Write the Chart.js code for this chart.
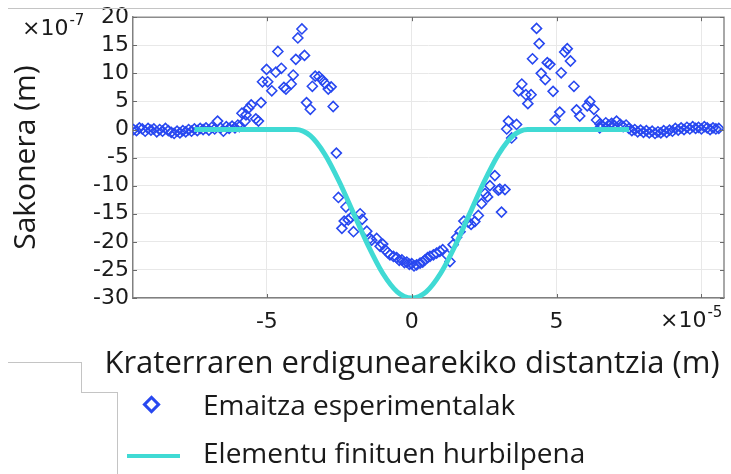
<!DOCTYPE html>
<html>
<head>
<meta charset="utf-8">
<script src="https://cdn.jsdelivr.net/npm/chart.js@4.4.1/dist/chart.umd.min.js"></script>
<style>
  html, body { margin: 0; padding: 0; background: #fff; }
  #wrap { position: relative; width: 731px; height: 474px; overflow: hidden; }
  #chart { position: absolute; left: 0; top: 0; }
  .rule { position: absolute; background: #c4c4c4; }
  .legend-row { position: absolute; left: 0; height: 40px; width: 731px; }
  .legend-text { position: absolute; left: 203px; top: 0; line-height: 40px;
                 font-family: "Open Sans"; font-size: 28px; color: #1a1a1a; white-space: nowrap; }
  .legend-diamond { position: absolute; width: 7px; height: 7px; transform: rotate(45deg); }
  .legend-line { position: absolute; height: 4px; }
</style>
</head>
<body>
<div id="wrap">
  <canvas id="chart" width="731" height="474"></canvas>
  <div class="rule" style="left:8px;top:8px;width:723px;height:1px"></div>
  <div class="rule" style="left:8px;top:362px;width:73px;height:1px"></div>
  <div class="rule" style="left:81px;top:362px;width:1px;height:30px"></div>
  <div class="rule" style="left:81px;top:392px;width:36px;height:1px"></div>
  <div class="rule" style="left:117px;top:392px;width:1px;height:82px"></div>
  <div id="legend"></div>
</div>
<script>
// x in units of 1e-5 m, y in units of 1e-7 m
const expX = [
  -9.6, -9.5, -9.4, -9.3, -9.2, -9.1, -9.0, -8.9, -8.8, -8.7, -8.6, -8.5, -8.4, -8.3, -8.2, -8.1,
  -8.0, -7.9, -7.8, -7.7, -7.6, -7.5, -7.4, -7.3, -7.2, -7.1, -7.0, -6.9, -6.8, -6.7, -6.6, -6.5,
  -6.4, -6.3, -6.2, -6.1, -6.0, -5.95,
  -5.86, -5.75, -5.72, -5.63, -5.54, -5.38, -5.29, -5.20, -5.15, -5.01, -4.97, -4.83, -4.69, -4.62,
  -4.50, -4.41, -4.34, -4.16, -4.09, -4.00, -3.93, -3.79, -3.70, -3.63, -3.50, -3.43, -3.33, -3.20,
  -3.08, -2.99, -2.88, -2.78, -2.71, -2.60,
  -2.53, -2.41, -2.33, -2.27, -2.19, -2.10, -2.01, -1.78, -1.71, -1.55, -1.44, -1.38, -1.21, -1.09,
  -1.00, -0.92, -0.83, -0.75, -0.63, -0.52, -0.43, -0.34, -0.25, -0.17, -0.08, 0.00, 0.08, 0.17,
  0.29, 0.38, 0.46, 0.55, 0.63, 0.75, 0.86, 0.97, 1.07, 1.21, 1.32, 1.43, 1.55, 1.67, 1.80, 1.95,
  2.05, 2.18, 2.30, 2.41, 2.53, 2.62, 2.70, 2.87, 2.99, 3.04, 3.10, 3.22,
  3.28, 3.34, 3.45, 3.62, 3.69, 3.80, 3.94, 4.01, 4.12, 4.17, 4.31, 4.40, 4.47, 4.61, 4.68, 4.77,
  4.88, 4.95, 5.11, 5.16, 5.28, 5.37, 5.48, 5.60, 5.69, 5.80, 6.06, 6.15, 6.29, 6.38, 6.49,
  6.5, 6.6, 6.7, 6.8, 6.9, 7.0, 7.07, 7.2, 7.3, 7.4, 7.5, 7.6, 7.7, 7.8, 7.9, 8.0, 8.1, 8.2, 8.3,
  8.4, 8.5, 8.6, 8.7, 8.8, 8.9, 9.0, 9.1, 9.2, 9.3, 9.4, 9.5, 9.6, 9.7, 9.8, 9.9, 10.0, 10.1, 10.2,
  10.3, 10.4, 10.5, 10.6
];
const expY = [
  0.0, -0.2, 0.3, 0.1, -0.3, 0.2, -0.1, 0.1, -0.4, 0.0, -0.3, 0.2, -0.2, -0.5, -0.7, -0.3,
  -0.6, -0.2, -0.4, 0.0, -0.3, 0.1, -0.2, 0.2, 0.0, 0.3, -0.1, 0.4, 0.1, 1.5, 0.3, -0.3,
  0.5, 0.2, 0.6, 0.3, 0.8, 0.5,
  2.9, 1.5, 2.6, 3.8, 4.4, 1.9, 1.5, 4.8, 8.5, 10.7, 8.5, 6.9, 10.2, 13.9,
  10.9, 7.5, 7.2, 8.1, 9.7, 12.5, 16.3, 17.9, 13.2, 4.8, 3.6, 7.7, 9.5, 9.4,
  8.8, 8.2, 7.2, 7.6, 4.1, -4.2,
  -12.1, -17.6, -16.3, -13.8, -16.1, -15.7, -18.2, -15.0, -16.0, -18.1, -19.4, -19.7, -19.4, -20.8,
  -20.4, -21.4, -21.9, -22.3, -22.6, -22.8, -23.3, -23.2, -23.7, -23.6, -24.0, -23.9, -24.3, -24.1,
  -23.8, -23.6, -23.2, -22.8, -22.6, -22.3, -22.0, -21.7, -21.4, -22.3, -23.5, -20.5, -19.2, -18.2, -16.3, -16.5,
  -16.9, -16.4, -15.3, -13.2, -11.4, -12.0, -10.0, -8.2, -10.8, -10.6, -14.7, -10.7,
  0.1, 1.5, -1.5, 0.9, 6.9, 8.1, 6.2, 4.6, 6.2, 12.6, 18.0, 15.3, 10.0, 8.9, 11.9, 11.6,
  6.8, 1.7, 3.1, 10.1, 13.8, 14.4, 12.2, 7.7, 3.5, 2.4, 4.2, 5.0, 3.6, 1.7, 0.3,
  1.0, 0.6, 1.2, 0.8, 1.1, 0.7, 1.5, 0.9, 0.5, 0.8, 0.2, -0.2, 0.0, -0.4, -0.1, -0.5, -0.2, -0.6, -0.3,
  -0.7, -0.4, -0.6, -0.2, -0.5, -0.1, -0.3, 0.2, -0.1, 0.3, 0.0, 0.4, 0.1, 0.5, 0.2, 0.4, 0.1, 0.5, 0.3,
  0.0, 0.3, 0.1, 0.2
];
const femX = [-7.5, -4.0, -3.5, -3.0, -2.5, -2.0, -1.5, -1.0, -0.5, 0.0, 0.5, 1.0, 1.5, 2.0, 2.5, 3.0, 3.5, 4.0, 7.5];
const femY = [0, 0, -1.1, -4.4, -9.3, -15.0, -20.7, -25.6, -28.9, -30.0, -28.9, -25.6, -20.7, -15.0, -9.3, -4.4, -1.1, 0, 0];

const xTickValues = [-5, 0, 5, 10];
const xTickLabels = ['-5', '0', '5', ''];
const yTickValues = [-30, -25, -20, -15, -10, -5, 0, 5, 10, 15, 20];
const yTickLabels = ['-30', '-25', '-20', '-15', '-10', '-5', '0', '5', '10', '15', '20'];

const seriesNames = ['Emaitza esperimentalak', 'Elementu finituen hurbilpena'];
const X_TITLE = 'Kraterraren erdigunearekiko distantzia (m)';
const Y_TITLE = 'Sakonera (m)';

const EXP_COLOR = 'rgb(40, 72, 240)';
const FEM_COLOR = 'rgb(64, 218, 212)';
const TEXT_COLOR = '#1a1a1a';

Chart.defaults.font.family = '"DejaVu Sans"';
Chart.defaults.color = TEXT_COLOR;

function drawMultiplier(ctx, x, y, exp) {
  ctx.font = '22px "DejaVu Sans"';
  ctx.textAlign = 'left';
  ctx.textBaseline = 'alphabetic';
  ctx.fillText('×10', x, y);
  const w = ctx.measureText('×10').width;
  ctx.font = '15px "DejaVu Sans"';
  ctx.fillText(exp, x + w + 1, y - 10);
}

const decorations = {
  id: 'decorations',
  afterDraw(chart) {
    const { ctx, chartArea: a, scales: { x, y } } = chart;
    ctx.save();
    // box frame on top and right
    ctx.strokeStyle = '#8c8c8c';
    ctx.lineWidth = 1.5;
    ctx.beginPath();
    ctx.moveTo(a.left, a.top);
    ctx.lineTo(a.right, a.top);
    ctx.lineTo(a.right, a.bottom);
    ctx.stroke();
    // inward tick marks
    ctx.strokeStyle = '#6a6a6a';
    ctx.lineWidth = 1;
    ctx.beginPath();
    x.ticks.forEach(t => {
      const px = Math.round(x.getPixelForValue(t.value)) + 0.5;
      ctx.moveTo(px, a.bottom); ctx.lineTo(px, a.bottom - 4);
      ctx.moveTo(px, a.top); ctx.lineTo(px, a.top + 4);
    });
    y.ticks.forEach(t => {
      const py = Math.round(y.getPixelForValue(t.value)) + 0.5;
      ctx.moveTo(a.left, py); ctx.lineTo(a.left + 4, py);
      ctx.moveTo(a.right, py); ctx.lineTo(a.right - 4, py);
    });
    ctx.stroke();
    // x axis title and exponent labels
    ctx.fillStyle = TEXT_COLOR;
    ctx.font = '31px "Open Sans"';
    ctx.textAlign = 'center';
    ctx.textBaseline = 'alphabetic';
    ctx.fillText(X_TITLE, 412, 373);
    drawMultiplier(ctx, 22, 35, '-7');
    drawMultiplier(ctx, 660, 327, '-5');
    ctx.restore();
  }
};

const ctx = document.getElementById('chart').getContext('2d');

const chart = new Chart(ctx, {
  type: 'scatter',
  data: {
    datasets: [
      {
        label: seriesNames[0],
        data: expX.map((v, i) => ({ x: v, y: expY[i] })),
        pointStyle: 'rectRot',
        pointRadius: 5,
        borderWidth: 1.6,
        borderColor: EXP_COLOR,
        backgroundColor: 'rgba(0,0,0,0)',
        order: 1,
      },
      {
        type: 'line',
        label: seriesNames[1],
        data: femX.map((v, i) => ({ x: v, y: femY[i] })),
        borderColor: FEM_COLOR,
        backgroundColor: FEM_COLOR,
        borderWidth: 5,
        pointRadius: 0,
        showLine: true,
        fill: false,
        cubicInterpolationMode: 'monotone',
        order: 0,
      },
    ],
  },
  options: {
    responsive: false,
    animation: false,
    layout: { padding: { left: 0, top: 13, right: 7, bottom: 136 } },
    plugins: {
      legend: { display: false },
      tooltip: { enabled: false },
    },
    scales: {
      x: {
        type: 'linear',
        min: -9.62,
        max: 10.78,
        afterBuildTicks(scale) {
          scale.ticks = xTickValues.map(v => ({ value: v }));
        },
        afterFit(scale) {
          scale.height = 40;
        },
        ticks: {
          autoSkip: false,
          maxRotation: 0,
          padding: 11,
          font: { size: 22 },
          color: TEXT_COLOR,
          callback: (v, i) => xTickLabels[i],
        },
        grid: { color: '#e8e8e8', drawTicks: false },
        border: { color: '#808080', width: 1.5 },
      },
      y: {
        type: 'linear',
        min: -30,
        max: 20,
        afterBuildTicks(scale) {
          scale.ticks = yTickValues.map(v => ({ value: v }));
        },
        afterFit(scale) {
          scale.width = 133;
        },
        ticks: {
          autoSkip: false,
          padding: 4,
          font: { size: 22 },
          color: TEXT_COLOR,
          callback: (v, i) => yTickLabels[i],
        },
        grid: { color: '#e8e8e8', drawTicks: false },
        border: { color: '#808080', width: 1.5 },
        title: {
          display: true,
          text: Y_TITLE,
          color: TEXT_COLOR,
          font: { family: '"Open Sans"', size: 30 },
          padding: { top: 8 },
        },
      },
    },
  },
  plugins: [decorations],
});

// html legend built from the chart datasets
const legendEl = document.getElementById('legend');
const legendTops = [384, 432];
chart.data.datasets.forEach((ds, i) => {
  const row = document.createElement('div');
  row.className = 'legend-row';
  row.style.top = legendTops[i] + 'px';
  const mark = document.createElement('div');
  if (ds.type === 'line') {
    mark.className = 'legend-line';
    mark.style.left = '127px';
    mark.style.width = '53px';
    mark.style.top = '22px';
    mark.style.background = ds.borderColor;
  } else {
    mark.className = 'legend-diamond';
    mark.style.left = '145px';
    mark.style.top = '14px';
    mark.style.border = '3px solid ' + ds.borderColor;
  }
  const text = document.createElement('div');
  text.className = 'legend-text';
  text.textContent = ds.label;
  row.appendChild(mark);
  row.appendChild(text);
  legendEl.appendChild(row);
});
</script>
</body>
</html>
